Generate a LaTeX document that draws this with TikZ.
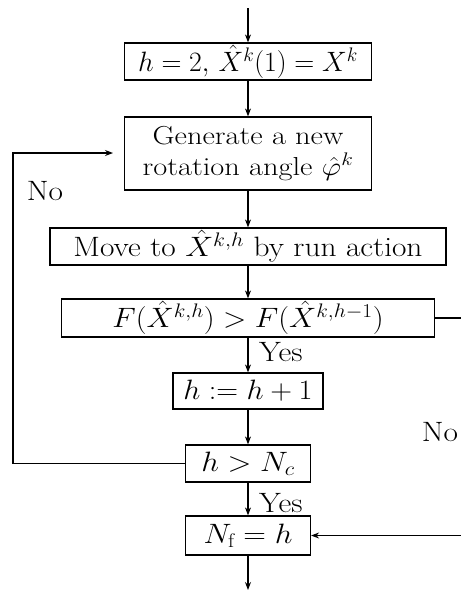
\RequirePackage{fix-cm}
\documentclass[tikz,border=0pt]{standalone}
\usepackage{fontspec}
\usepackage{graphicx}
\usetikzlibrary{arrows.meta}
\newcommand{\sx}[1]{\scalebox{1.12}[1]{#1}}
\begin{document}
\begin{tikzpicture}[x=1pt,y=-1pt,
  every node/.style={font=\fontsize{28}{33}\selectfont},
  box/.style={draw,line width=1.2pt,rectangle,inner sep=0pt,align=center},
  arr/.style={line width=1.1pt,-{Stealth[length=8pt,width=6pt]}}]
\useasboundingbox (0,0) rectangle (461,590);
\node[box,minimum width=247pt,minimum height=37pt] (b1) at (248,61.5) {\scalebox{0.99}[1]{$h=2,\,\hat{X}^k(1)=X^k$}};
\node[box,minimum width=247pt,minimum height=73pt,font=\fontsize{26}{31}\selectfont] (b2) at (248,153.5) {\scalebox{1.17}[1]{\begin{tabular}{@{}c@{}}Generate a new\\rotation angle $\hat{\varphi}^k$\end{tabular}}};
\node[box,minimum width=396pt,minimum height=37pt] (b3) at (248,246.5) {\sx{Move to $\hat{X}^{k,h}$ by run action}};
\node[box,minimum width=373pt,minimum height=38pt] (b4) at (248,318) {\scalebox{1.09}[1]{$F(\hat{X}^{k,h})>F(\hat{X}^{k,h-1})$}};
\node[box,minimum width=150pt,minimum height=36pt] (b5) at (248,391) {\scalebox{1.08}[1]{$h:=h+1$}};
\node[box,minimum width=125pt,minimum height=37pt] (b6) at (248,463.5) {\sx{$h>N_c$}};
\node[box,minimum width=125pt,minimum height=39pt] (b7) at (248,535.5) {\sx{$N_{\mathrm{f}}=h$}};
\coordinate (top) at (248,8);
\coordinate (bot) at (248,590);
\coordinate (l1) at (13,463.5);
\coordinate (l2) at (13,153);
\coordinate (l3) at (113,153);
\coordinate (r1) at (468,318);
\coordinate (r2) at (468,535.5);
\node[anchor=west,inner sep=0pt] (y1) at (259,352) {\sx{Yes}};
\node[anchor=west,inner sep=0pt] (y2) at (259,503) {\sx{Yes}};
\node[inner sep=0pt] (n1) at (45,191) {\sx{No}};
\node[inner sep=0pt] (n2) at (440,432) {\sx{No}};
\draw[arr] (top) -- (b1);
\draw[arr] (b1) -- (b2);
\draw[arr] (b2) -- (b3);
\draw[arr] (b3) -- (b4);
\draw[arr] (b4) -- (b5);
\draw[arr] (b5) -- (b6);
\draw[arr] (b6) -- (b7);
\draw[arr] (b7) -- (bot);
\draw[arr] (b6.west) -- (l1) -- (l2) -- (l3);
\draw[arr] (b4.east) -- (r1) -- (r2) -- (b7.east);
\end{tikzpicture}
\end{document}
